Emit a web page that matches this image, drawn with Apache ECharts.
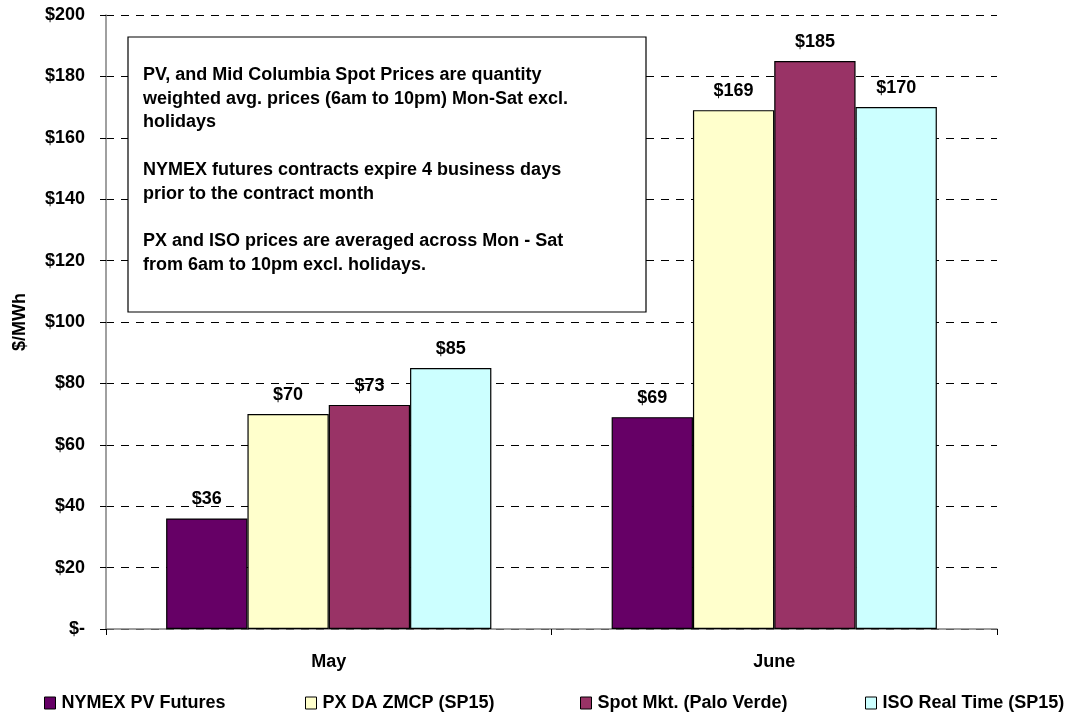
<!DOCTYPE html>
<html>
<head>
<meta charset="utf-8">
<title>Power Prices: May vs June</title>
<script src="https://cdn.jsdelivr.net/npm/echarts@6/dist/echarts.min.js"></script>
<style>
  html, body { margin: 0; padding: 0; background: #fff; }
  #chart { width: 1076px; height: 717px; }
</style>
</head>
<body>
<div id="chart"></div>
<script>
// Months on the category axis
const months = ['May', 'June'];

// Average prices in $/MWh for each market
const nymexPvFutures = [36, 69];
const pxDaZmcp = [70, 169];
const spotPaloVerde = [73, 185];
const isoRealTime = [85, 170];

const seriesNames = [
  'NYMEX PV Futures',
  'PX DA ZMCP (SP15)',
  'Spot Mkt. (Palo Verde)',
  'ISO Real Time (SP15)'
];
const seriesValues = [nymexPvFutures, pxDaZmcp, spotPaloVerde, isoRealTime];
const seriesColors = ['#660066', '#FFFFCC', '#993366', '#CCFFFF'];

// Value axis ticks
const yMin = 0;
const yMax = 200;
const yStep = 20;

// Footnote text in the box
const noteLines = [
  'PV, and Mid Columbia Spot Prices are quantity',
  'weighted avg. prices (6am to 10pm) Mon-Sat excl.',
  'holidays',
  '',
  'NYMEX futures contracts expire 4 business days',
  'prior to the contract month',
  '',
  'PX and ISO prices are averaged across Mon - Sat',
  'from 6am to 10pm excl. holidays.'
];

const FONT = 'Liberation Sans, Arial, sans-serif';
const chart = echarts.init(document.getElementById('chart'), null, { renderer: 'canvas' });

const legendLefts = [44, 305, 580, 865];

const option = {
  backgroundColor: '#ffffff',
  animation: false,
  textStyle: { fontFamily: FONT },
  grid: { left: 106, right: 79, top: 15, bottom: 88, containLabel: false },
  legend: seriesNames.map((name, i) => ({
    data: [name],
    left: legendLefts[i],
    top: 694,
    padding: 0,
    icon: 'rect',
    itemWidth: 11,
    itemHeight: 12,
    itemStyle: { borderColor: '#000', borderWidth: 1 },
    textStyle: { fontFamily: FONT, fontWeight: 'bold', fontSize: 18, color: '#000', padding: [0, 0, 0, 1] },
    selectedMode: false
  })),
  xAxis: {
    type: 'category',
    data: months,
    axisLine: { lineStyle: { color: '#808080', width: 1.5 } },
    axisTick: { show: true, length: 6, lineStyle: { color: '#000' } },
    axisLabel: { fontFamily: FONT, fontWeight: 'bold', fontSize: 18, color: '#000', margin: 24 }
  },
  yAxis: {
    type: 'value',
    min: yMin,
    max: yMax,
    interval: yStep,
    name: '$/MWh',
    nameLocation: 'middle',
    nameRotate: 90,
    nameGap: 77,
    nameTextStyle: { fontFamily: FONT, fontWeight: 'bold', fontSize: 18, color: '#000' },
    axisLine: { show: true, lineStyle: { color: '#808080', width: 1.5 } },
    axisTick: { show: true, length: 6, lineStyle: { color: '#000' } },
    axisLabel: {
      fontFamily: FONT, fontWeight: 'bold', fontSize: 18, color: '#000', margin: 21,
      formatter: v => (v === 0 ? '$-' : '$' + v)
    },
    splitLine: {
      show: true,
      lineStyle: { color: '#000', width: 1, type: [8, 7] }
    }
  },
  series: seriesNames.map((name, i) => ({
    name,
    type: 'bar',
    data: seriesValues[i],
    barGap: '0%',
    barCategoryGap: '27%',
    itemStyle: { color: seriesColors[i], borderColor: '#000', borderWidth: 1.2 },
    label: {
      show: true,
      position: 'top',
      distance: 10,
      fontFamily: FONT,
      fontWeight: 'bold',
      fontSize: 18,
      color: '#000',
      formatter: p => '$' + Math.round(p.value)
    }
  })),
  graphic: [
    {
      type: 'rect',
      z: 50,
      shape: { x: 128, y: 37, width: 518, height: 275 },
      style: { fill: '#fff', stroke: '#000', lineWidth: 1.2 }
    },
    {
      type: 'text',
      z: 51,
      x: 143,
      y: 63,
      style: {
        text: noteLines.join('\n'),
        font: 'bold 18px ' + FONT,
        fill: '#000',
        lineHeight: 23.75,
        verticalAlign: 'top'
      }
    }
  ]
};

chart.setOption(option);
</script>
</body>
</html>
